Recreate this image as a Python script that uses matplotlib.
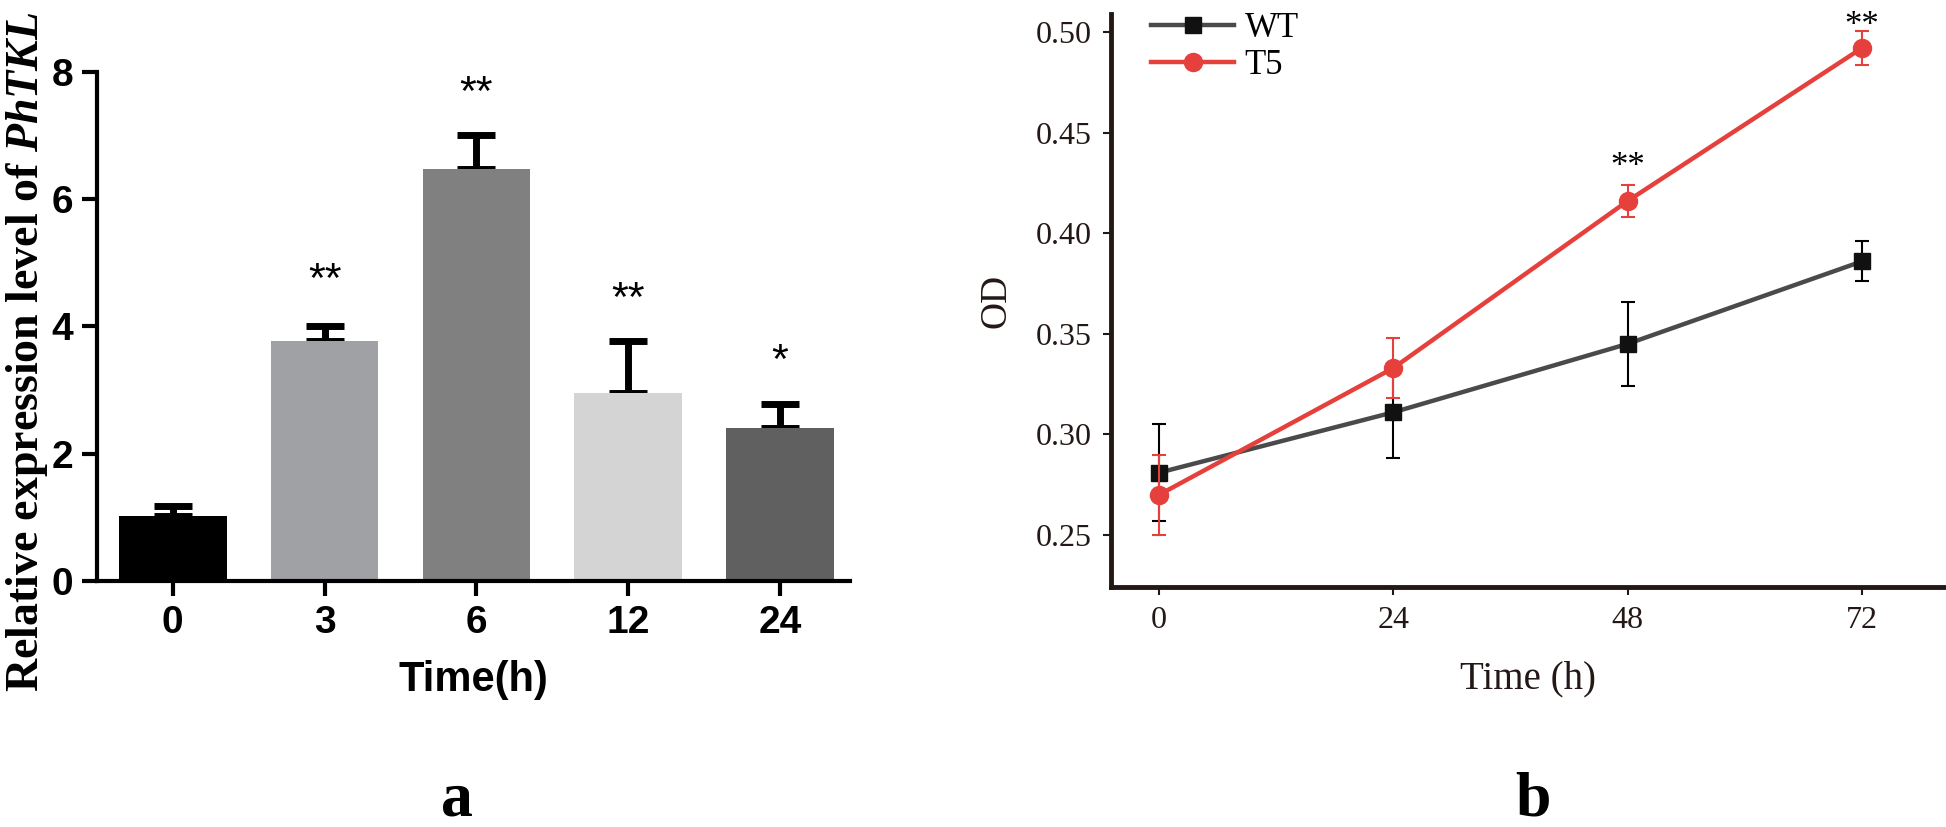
import numpy as np
import matplotlib
matplotlib.use('Agg')
import matplotlib.pyplot as plt

plt.rcParams['mathtext.fontset'] = 'custom'
plt.rcParams['mathtext.it'] = 'Liberation Serif:italic:bold'
plt.rcParams['mathtext.rm'] = 'Liberation Serif:bold'

# panel a data
times_a = ['0', '3', '6', '12', '24']
expr = [1.02, 3.77, 6.47, 2.96, 2.41]
expr_err = [0.16, 0.24, 0.54, 0.81, 0.37]
stars_a = ['', '**', '**', '**', '*']
star_y_a = [0, 4.72, 7.66, 4.42, 3.44]
bar_colors = ['#000000', '#a0a1a5', '#808080', '#d4d4d4', '#606060']

# panel b data
times_b = [0, 24, 48, 72]
wt = [0.281, 0.311, 0.345, 0.386]
wt_err = [0.024, 0.0225, 0.021, 0.010]
t5 = [0.270, 0.333, 0.416, 0.492]
t5_err = [0.020, 0.015, 0.008, 0.0085]
stars_b = ['', '', '**', '**']
star_y_b = [0, 0, 0.4325, 0.5025]

narrow = ['Liberation Sans Narrow', 'Liberation Sans', 'DejaVu Sans']
serif = ['Liberation Serif', 'DejaVu Serif']
ink = '#231815'

fig = plt.figure(figsize=(19.46, 8.27), dpi=100)

# ---- a ----
ax1 = fig.add_axes([0.0498, 0.2975, 0.3869, 0.6155])
x = np.arange(len(times_a))
ax1.bar(x, expr, width=0.71, color=bar_colors, zorder=2)
ax1.errorbar(x, expr, yerr=[np.zeros(len(expr)), expr_err], fmt='none',
             ecolor='black', elinewidth=5, capsize=14, capthick=5, zorder=1)
for xi, s, sy in zip(x, stars_a, star_y_a):
    if s:
        ax1.text(xi, sy, s, ha='center', va='center', fontsize=31,
                 family=['Liberation Sans', 'DejaVu Sans'])
ax1.set_xlim(-0.5, 4.46)
ax1.set_ylim(0, 8)
ax1.set_yticks([0, 2, 4, 6, 8])
ax1.set_xticks(x)
ax1.set_xticklabels(times_a)
for sp in ['top', 'right']:
    ax1.spines[sp].set_visible(False)
for sp in ['left', 'bottom']:
    ax1.spines[sp].set_linewidth(3)
ax1.tick_params(direction='out', length=11, width=3, pad=6)
for lab in ax1.get_xticklabels() + ax1.get_yticklabels():
    lab.set_family(narrow)
    lab.set_fontweight('bold')
    lab.set_fontsize(28)
ax1.set_xlabel('Time(h)', family=narrow, fontweight='bold', fontsize=30, labelpad=14)
fig.text(0.014, 0.574, r'Relative expression level of $\mathit{PhTKL}$', rotation=90,
         ha='center', va='center', family=serif, fontweight='bold', fontsize=33)
fig.text(457 / 1946, 1 - 800 / 827, 'a', ha='center', va='center', family=serif,
         fontweight='bold', fontsize=46)

# ---- b ----
ax2 = fig.add_axes([0.5709, 0.2902, 0.4291, 0.6929])
e_wt = ax2.errorbar(times_b, wt, yerr=wt_err, color='#4a4a4a', lw=3.2, marker='s', ms=11,
                    mfc='#111111', mec='#111111', ecolor='black', elinewidth=1.5,
                    capsize=5, capthick=1.5, zorder=2)
e_t5 = ax2.errorbar(times_b, t5, yerr=t5_err, color='#e5403c', lw=3.2, marker='o', ms=13,
                    mfc='#e5403c', mec='#e5403c', ecolor='#e5403c', elinewidth=1.5,
                    capsize=5, capthick=1.5, zorder=3)
for xi, s, sy in zip(times_b, stars_b, star_y_b):
    if s:
        ax2.text(xi, sy, s, ha='center', va='center', fontsize=25, family=serif,
                 clip_on=False)
ax2.set_xlim(-4.92, 80.6)
ax2.set_ylim(0.2242, 0.5089)
ax2.set_xticks(times_b)
ax2.set_yticks([0.25, 0.30, 0.35, 0.40, 0.45, 0.50])
ax2.set_yticklabels(['0.25', '0.30', '0.35', '0.40', '0.45', '0.50'])
for sp in ['top', 'right']:
    ax2.spines[sp].set_visible(False)
for sp in ['left', 'bottom']:
    ax2.spines[sp].set_linewidth(3.5)
    ax2.spines[sp].set_color(ink)
ax2.tick_params(direction='out', length=6, width=1.5, color=ink, labelcolor=ink, pad=8)
for lab in ax2.get_xticklabels() + ax2.get_yticklabels():
    lab.set_family(serif)
    lab.set_fontsize(23)
ax2.set_xlabel('Time (h)', family=serif, fontsize=28, color=ink, labelpad=18)
ax2.set_ylabel('OD', family=serif, fontsize=27, color=ink, labelpad=16)
# legend without the error bars in the handles
ax2.legend([e_wt[0], e_t5[0]], ['WT', 'T5'], loc='upper left',
           bbox_to_anchor=(0.048, 1.004), frameon=False,
           prop={'family': serif, 'size': 25}, handlelength=2.4,
           handletextpad=0.3, borderpad=0, borderaxespad=0, labelspacing=0.12)
fig.text(1533 / 1946, 1 - 800 / 827, 'b', ha='center', va='center', family=serif,
         fontweight='bold', fontsize=46)

fig.savefig('out.png', dpi=100)
